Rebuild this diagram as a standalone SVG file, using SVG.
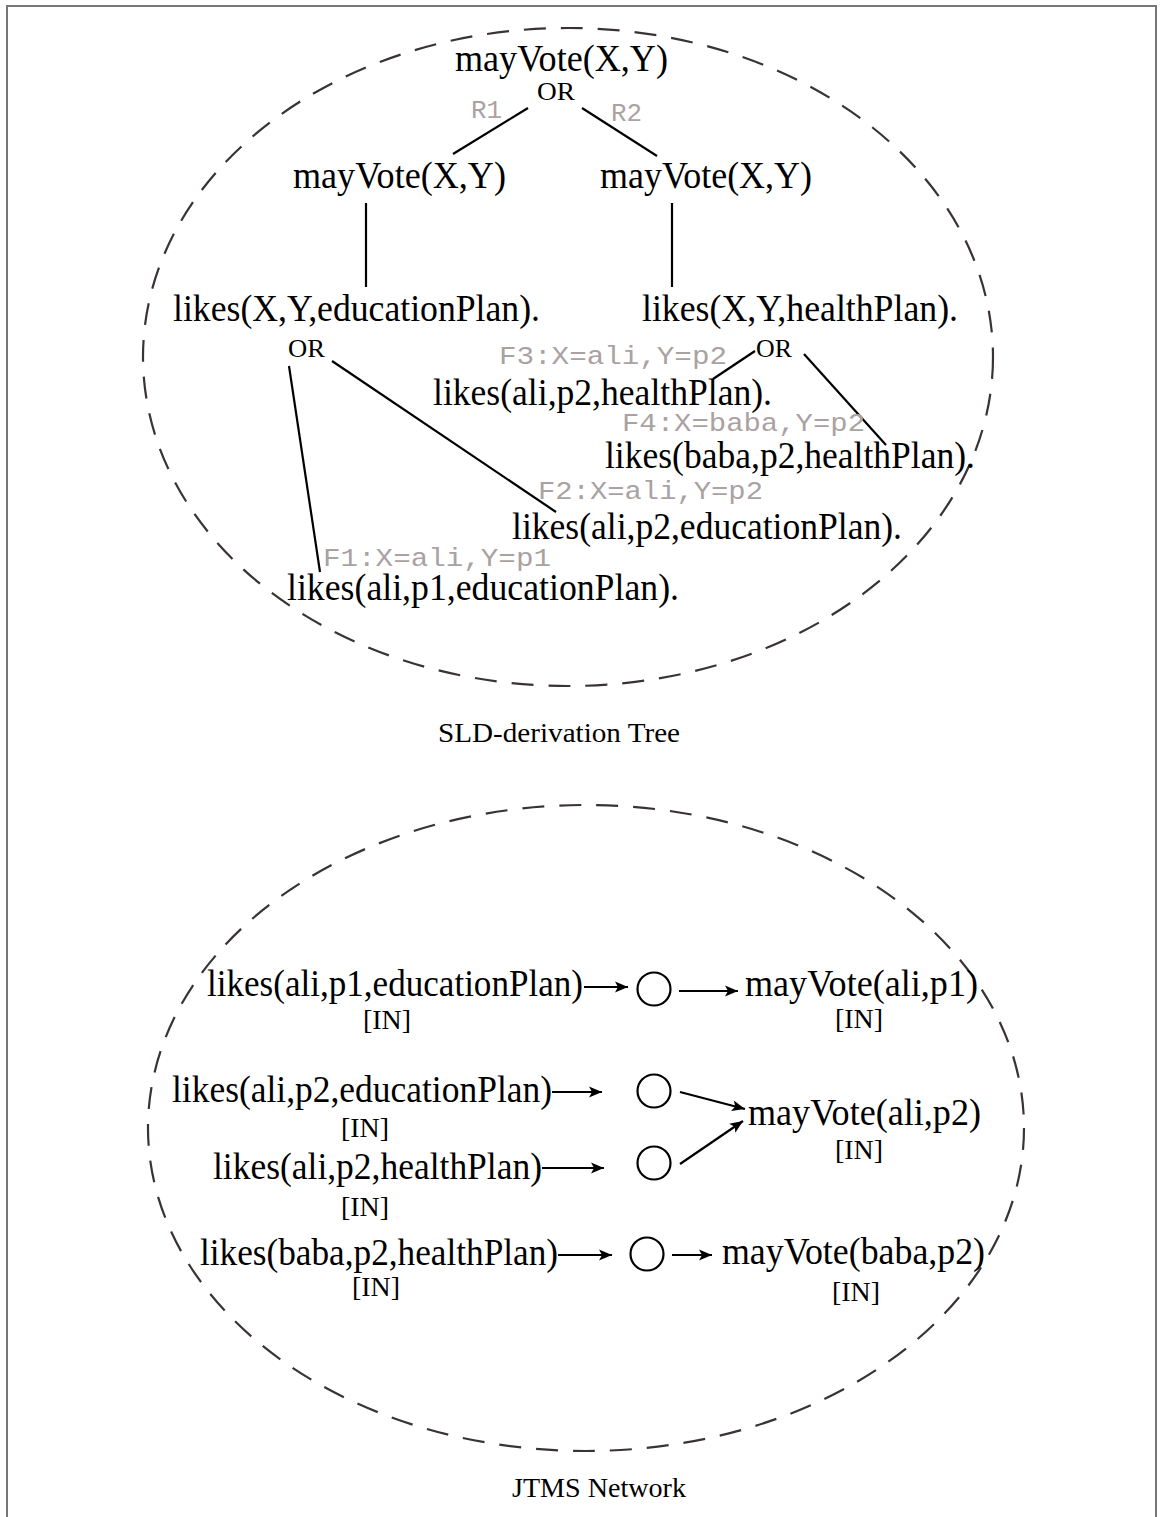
<svg xmlns="http://www.w3.org/2000/svg" width="1160" height="1517" viewBox="0 0 1160 1517">
  <style>
    .term { font-family: "Liberation Serif", "Times New Roman", serif; font-size: 37px; fill: #000; }
    .or { font-family: "Liberation Serif", "Times New Roman", serif; font-size: 26px; fill: #000; }
    .status { font-family: "Liberation Serif", "Times New Roman", serif; font-size: 28px; fill: #000; }
    .caption { font-family: "Liberation Serif", "Times New Roman", serif; font-size: 28px; fill: #000; }
    .subst { font-family: "Liberation Mono", "Courier New", monospace; font-size: 25px; fill: #aaa2a2; }
    .edge { stroke: #000; stroke-width: 2.2; fill: none; }
    .just { stroke: #000; stroke-width: 2.2; fill: #fff; }
    .scope { stroke: #3a3333; stroke-width: 2.2; fill: none; stroke-dasharray: 22 15; }
  </style>
  <defs>
    <marker id="arrow" viewBox="-14 -7 16 14" markerWidth="16" markerHeight="14" refX="0" refY="0" orient="auto" markerUnits="userSpaceOnUse">
      <path d="M-13,-5.5 L0,0 L-13,5.5 L-10,0 Z" fill="#000"/>
    </marker>
  </defs>

  <rect x="0" y="0" width="1160" height="1517" fill="#fff"/>
  <!-- outer frame -->
  <path d="M7,1520 V6 H1156 V1520" stroke="#777" stroke-width="2" fill="none"/>

  <!-- section outlines -->
  <ellipse id="sld-scope" class="scope" cx="568" cy="357" rx="425" ry="329"/>
  <ellipse id="jtms-scope" class="scope" cx="586" cy="1128" rx="438" ry="323"/>

  <!-- ===== SLD-derivation tree ===== -->
  <g id="connectors-sld">
    <line class="edge" x1="528" y1="108" x2="453" y2="154"/>
    <line class="edge" x1="582" y1="108" x2="657" y2="156"/>
    <line class="edge" x1="366" y1="203" x2="366" y2="287"/>
    <line class="edge" x1="672" y1="203" x2="672" y2="287"/>
    <line class="edge" x1="289" y1="366" x2="320" y2="572"/>
    <line class="edge" x1="332" y1="361" x2="556" y2="512"/>
    <line class="edge" x1="755" y1="351" x2="713" y2="379"/>
    <line class="edge" x1="804" y1="354" x2="886" y2="445"/>
  </g>

  <g id="goal-root">
    <text class="term" x="455" y="71" textLength="213" lengthAdjust="spacingAndGlyphs">mayVote(X,Y)</text>
    <text class="or" x="537" y="100" textLength="38" lengthAdjust="spacingAndGlyphs">OR</text>
  </g>
  <text class="subst" x="471" y="118" textLength="31" lengthAdjust="spacingAndGlyphs">R1</text>
  <text class="subst" x="611" y="121" textLength="31" lengthAdjust="spacingAndGlyphs">R2</text>

  <g id="goal-r1">
    <text class="term" x="293" y="188" textLength="213" lengthAdjust="spacingAndGlyphs">mayVote(X,Y)</text>
  </g>
  <g id="goal-r2">
    <text class="term" x="600" y="188" textLength="212" lengthAdjust="spacingAndGlyphs">mayVote(X,Y)</text>
  </g>

  <g id="goal-education">
    <text class="term" x="173" y="321" textLength="367" lengthAdjust="spacingAndGlyphs">likes(X,Y,educationPlan).</text>
    <text class="or" x="288" y="357" textLength="37" lengthAdjust="spacingAndGlyphs">OR</text>
  </g>
  <g id="goal-health">
    <text class="term" x="642" y="321" textLength="316" lengthAdjust="spacingAndGlyphs">likes(X,Y,healthPlan).</text>
    <text class="or" x="756" y="357" textLength="36" lengthAdjust="spacingAndGlyphs">OR</text>
  </g>

  <g id="fact-f3">
    <text class="subst" x="499" y="364" textLength="228" lengthAdjust="spacingAndGlyphs">F3:X=ali,Y=p2</text>
    <text class="term" x="433" y="405" textLength="339" lengthAdjust="spacingAndGlyphs">likes(ali,p2,healthPlan).</text>
  </g>
  <g id="fact-f4">
    <text class="subst" x="622" y="431" textLength="243" lengthAdjust="spacingAndGlyphs">F4:X=baba,Y=p2</text>
    <text class="term" x="605" y="468" textLength="370" lengthAdjust="spacingAndGlyphs">likes(baba,p2,healthPlan).</text>
  </g>
  <g id="fact-f2">
    <text class="subst" x="538" y="499" textLength="225" lengthAdjust="spacingAndGlyphs">F2:X=ali,Y=p2</text>
    <text class="term" x="512" y="539" textLength="390" lengthAdjust="spacingAndGlyphs">likes(ali,p2,educationPlan).</text>
  </g>
  <g id="fact-f1">
    <text class="subst" x="323" y="566" textLength="228" lengthAdjust="spacingAndGlyphs">F1:X=ali,Y=p1</text>
    <text class="term" x="287" y="600" textLength="392" lengthAdjust="spacingAndGlyphs">likes(ali,p1,educationPlan).</text>
  </g>

  <text class="caption" x="438" y="742" textLength="242" lengthAdjust="spacingAndGlyphs">SLD-derivation Tree</text>

  <!-- ===== JTMS network ===== -->
  <g id="connectors-jtms">
    <line class="edge" x1="584" y1="987" x2="628" y2="987" marker-end="url(#arrow)"/>
    <line class="edge" x1="679" y1="991" x2="738" y2="991" marker-end="url(#arrow)"/>
    <line class="edge" x1="552" y1="1092" x2="602" y2="1092" marker-end="url(#arrow)"/>
    <line class="edge" x1="680" y1="1092" x2="745" y2="1109" marker-end="url(#arrow)"/>
    <line class="edge" x1="542" y1="1168" x2="604" y2="1168" marker-end="url(#arrow)"/>
    <line class="edge" x1="680" y1="1164" x2="743" y2="1121" marker-end="url(#arrow)"/>
    <line class="edge" x1="558" y1="1255" x2="612" y2="1255" marker-end="url(#arrow)"/>
    <line class="edge" x1="672" y1="1255" x2="712" y2="1255" marker-end="url(#arrow)"/>
  </g>

  <g id="premise-ali-p1-edu">
    <text class="term" x="207" y="996" textLength="376" lengthAdjust="spacingAndGlyphs">likes(ali,p1,educationPlan)</text>
    <text class="status" x="363" y="1029" textLength="48" lengthAdjust="spacingAndGlyphs">[IN]</text>
  </g>
  <g id="premise-ali-p2-edu">
    <text class="term" x="172" y="1102" textLength="380" lengthAdjust="spacingAndGlyphs">likes(ali,p2,educationPlan)</text>
    <text class="status" x="341" y="1137" textLength="48" lengthAdjust="spacingAndGlyphs">[IN]</text>
  </g>
  <g id="premise-ali-p2-health">
    <text class="term" x="213" y="1179" textLength="329" lengthAdjust="spacingAndGlyphs">likes(ali,p2,healthPlan)</text>
    <text class="status" x="341" y="1216" textLength="48" lengthAdjust="spacingAndGlyphs">[IN]</text>
  </g>
  <g id="premise-baba-p2-health">
    <text class="term" x="200" y="1265" textLength="358" lengthAdjust="spacingAndGlyphs">likes(baba,p2,healthPlan)</text>
    <text class="status" x="352" y="1296" textLength="48" lengthAdjust="spacingAndGlyphs">[IN]</text>
  </g>

  <circle id="justification-1" class="just" cx="654" cy="989" r="16.5"/>
  <circle id="justification-2" class="just" cx="654" cy="1091" r="16.5"/>
  <circle id="justification-3" class="just" cx="654" cy="1163" r="16.5"/>
  <circle id="justification-4" class="just" cx="647" cy="1254" r="16.5"/>

  <g id="node-vote-ali-p1">
    <text class="term" x="745" y="996" textLength="233" lengthAdjust="spacingAndGlyphs">mayVote(ali,p1)</text>
    <text class="status" x="835" y="1028" textLength="48" lengthAdjust="spacingAndGlyphs">[IN]</text>
  </g>
  <g id="node-vote-ali-p2">
    <text class="term" x="748" y="1125" textLength="233" lengthAdjust="spacingAndGlyphs">mayVote(ali,p2)</text>
    <text class="status" x="835" y="1159" textLength="48" lengthAdjust="spacingAndGlyphs">[IN]</text>
  </g>
  <g id="node-vote-baba-p2">
    <text class="term" x="722" y="1264" textLength="263" lengthAdjust="spacingAndGlyphs">mayVote(baba,p2)</text>
    <text class="status" x="832" y="1301" textLength="48" lengthAdjust="spacingAndGlyphs">[IN]</text>
  </g>

  <text class="caption" x="512" y="1497" textLength="174" lengthAdjust="spacingAndGlyphs">JTMS Network</text>
</svg>
